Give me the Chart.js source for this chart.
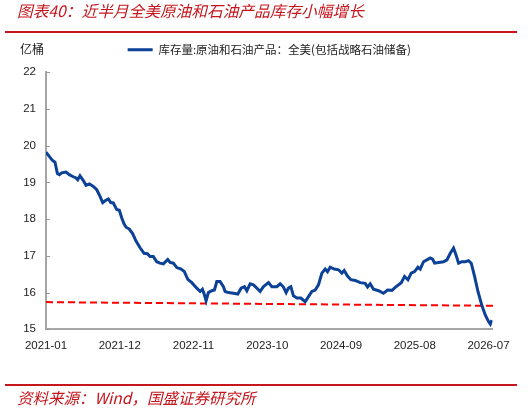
<!DOCTYPE html>
<html>
<head>
<meta charset="utf-8">
<script src="https://cdn.jsdelivr.net/npm/chart.js@4/dist/chart.umd.min.js"></script>
<style>
html,body{margin:0;padding:0;background:#fff;width:531px;height:410px;overflow:hidden;position:relative;font-family:"Noto Sans CJK SC",sans-serif}
#wrap{position:absolute;left:0;top:0;width:531px;height:410px}
.title{position:absolute;left:17px;top:1px;font-size:15.7px;font-style:italic;color:#c4161c;white-space:nowrap;line-height:20px}
.rule{position:absolute;left:5px;width:512px;height:2px;background:#c4161c}
.unit{position:absolute;left:20px;top:41px;font-size:12px;color:#222;line-height:16px}
.source{position:absolute;left:17px;top:388px;font-size:15.5px;font-style:italic;color:#c4161c;white-space:nowrap;line-height:18px}
</style>
</head>
<body>
<div id="wrap"><canvas id="c"></canvas></div>
<div class="title">图表40：近半月全美原油和石油产品库存小幅增长</div>
<div class="rule" style="top:30.5px"></div>
<div class="unit">亿桶</div>
<div class="rule" style="top:383.5px"></div>
<div class="source">资料来源：Wind，国盛证券研究所</div>
<script>
// month offsets from 2021-01
const monthIdx = [0,0.49,0.85,1.09,1.34,1.70,2.0,2.34,2.99,3.48,3.99,4.48,4.73,5.07,5.57,5.97,6.46,7.06,7.57,8.06,8.46,8.81,9.30,9.66,10.04,10.55,10.94,11.30,11.64,11.94,12.43,12.94,13.43,14.03,14.63,15.12,15.52,16.01,16.52,17.0,17.51,18.16,18.51,19.0,19.51,20.15,20.64,21.15,21.75,22.49,22.99,23.33,23.63,23.88,24.22,24.73,25.12,25.48,25.97,26.46,26.72,27.21,27.96,28.61,29.10,29.60,29.96,30.45,30.94,31.45,31.94,32.43,33.18,33.69,34.43,34.93,35.42,35.82,36.16,36.52,36.91,37.42,38.01,38.66,39.15,39.66,40.15,40.64,41.15,41.64,41.99,42.39,42.99,43.63,44.13,44.48,44.97,45.48,46.12,46.87,47.61,47.96,48.36,48.85,49.60,50.34,50.94,51.60,52.09,52.99,53.48,53.99,54.48,54.97,55.48,55.82,56.31,56.82,57.31,57.66,57.96,58.55,59.30,59.81,60.30,60.79,61.15,61.54,62.04,62.54,63.03,63.43,63.93,64.43,65.03,65.52,66.01,66.27,66.52];
const inventory = [19.82,19.71,19.62,19.58,19.55,19.24,19.21,19.26,19.28,19.21,19.16,19.12,19.07,19.18,19.05,18.92,18.96,18.89,18.80,18.62,18.45,18.50,18.55,18.45,18.44,18.26,18.24,18.03,17.87,17.78,17.73,17.60,17.40,17.22,17.07,17.06,16.98,16.98,16.84,16.80,16.78,16.90,16.82,16.80,16.68,16.64,16.57,16.36,16.27,16.12,16.03,16.09,15.94,15.78,16.00,16.05,16.07,16.30,16.30,16.16,16.03,16.00,15.98,15.96,16.12,16.16,16.05,16.24,16.21,16.12,16.03,16.16,16.27,16.16,16.16,16.24,16.15,16.00,16.12,16.16,15.91,15.85,15.85,15.75,15.89,16.03,16.07,16.21,16.53,16.64,16.57,16.69,16.64,16.62,16.53,16.60,16.45,16.35,16.33,16.27,16.25,16.15,16.24,16.09,16.05,15.98,16.07,16.06,16.14,16.27,16.44,16.35,16.53,16.57,16.69,16.64,16.84,16.89,16.94,16.91,16.80,16.82,16.84,16.89,17.07,17.21,17.03,16.80,16.84,16.84,16.87,16.80,16.44,16.03,15.64,15.39,15.21,15.14,15.25];
const refMonths = [0, 67.0];
const refValues = [15.74, 15.64];
const tickMonths = [0,11,22,33,44,55,66];
const tickLabels = ['2021-01','2021-12','2022-11','2023-10','2024-09','2025-08','2026-07'];
const seriesName = '库存量:原油和石油产品：全美(包括战略石油储备)';

const legendGap = {
  id: 'legendGap',
  beforeLayout(chart) {
    const lg = chart.legend;
    if (lg && !lg._gapPatched) {
      const f = lg.fit;
      lg.fit = function () { f.call(this); this.height += 6.7; };
      lg._gapPatched = true;
    }
  }
};
const innerTicks = {
  id: 'innerTicks',
  afterDraw(chart) {
    const {ctx, chartArea, scales: {y}} = chart;
    ctx.save();
    ctx.strokeStyle = '#999';
    ctx.lineWidth = 1;
    y.ticks.forEach(t => {
      const py = Math.round(y.getPixelForValue(t.value)) + 0.5;
      ctx.beginPath();
      ctx.moveTo(chartArea.left, py);
      ctx.lineTo(chartArea.left + 4, py);
      ctx.stroke();
    });
    ctx.restore();
  }
};

new Chart(document.getElementById('c'), {
  type: 'line',
  data: {
    datasets: [
      {
        label: seriesName,
        data: monthIdx.map((m, i) => ({x: m, y: inventory[i]})),
        borderColor: '#0b4196',
        backgroundColor: '#0b4196',
        borderWidth: 3,
        pointRadius: 0,
        tension: 0
      },
      {
        label: 'ref',
        data: refMonths.map((m, i) => ({x: m, y: refValues[i]})),
        borderColor: '#ff0000',
        borderWidth: 2,
        borderDash: [7, 4],
        pointRadius: 0,
        clip: false
      }
    ]
  },
  options: {
    responsive: true,
    maintainAspectRatio: false,
    animation: false,
    layout: {padding: {left: 0, right: 38.5, top: 34, bottom: 50.7}},
    plugins: {
      tooltip: {enabled: false},
      legend: {
        display: true,
        position: 'top',
        align: 'center',
        fullSize: false,
        labels: {
          filter: item => item.datasetIndex === 0,
          usePointStyle: true,
          pointStyle: 'line',
          pointStyleWidth: 25,
          padding: 10,
          color: '#222',
          font: {family: '"Noto Sans CJK SC"', size: 11.5}
        }
      }
    },
    scales: {
      x: {
        type: 'linear',
        min: 0,
        max: 66.6,
        afterBuildTicks: s => { s.ticks = tickMonths.map(v => ({value: v})); },
        afterFit: s => { s.height = 30; },
        grid: {display: false, drawTicks: false},
        border: {display: true, color: '#a6a6a6', width: 2},
        ticks: {
          autoSkip: false,
          maxRotation: 0,
          padding: 10,
          color: '#222',
          font: {family: '"Liberation Sans"', size: 11.5},
          callback: v => tickLabels[tickMonths.indexOf(v)] ?? ''
        }
      },
      y: {
        min: 15,
        max: 22,
        afterFit: s => { s.width = 46; },
        grid: {display: false, drawTicks: false},
        border: {display: true, color: '#a6a6a6', width: 2},
        ticks: {
          stepSize: 1,
          padding: 10,
          color: '#222',
          font: {family: '"Liberation Sans"', size: 11.5}
        }
      }
    }
  },
  plugins: [legendGap, innerTicks]
});
</script>
</body>
</html>
